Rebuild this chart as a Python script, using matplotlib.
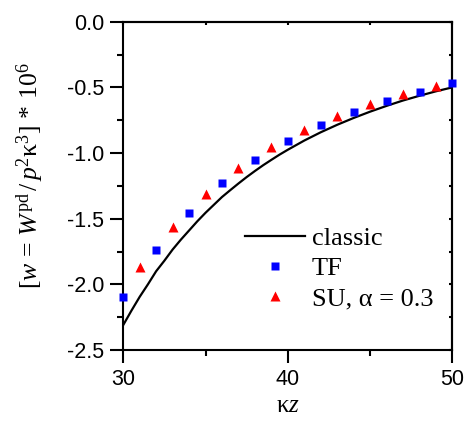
import matplotlib
matplotlib.use("Agg")
import matplotlib.pyplot as plt
from matplotlib.ticker import MultipleLocator, FormatStrFormatter

plt.rcParams['mathtext.fontset'] = 'custom'
plt.rcParams['mathtext.rm'] = 'Liberation Serif'
plt.rcParams['mathtext.it'] = 'Liberation Serif:italic'
plt.rcParams['axes.unicode_minus'] = False

# classic curve
kz_classic = [30, 30.5, 31, 31.5, 32, 32.5, 33, 33.5, 34, 34.5, 35, 35.5, 36, 36.5,
              37, 37.5, 38, 38.5, 39, 39.5, 40,
              41, 42, 43, 44, 45, 46, 47, 48, 49, 50]
w_classic = [-2.31, -2.20, -2.095, -2.00, -1.90, -1.82, -1.735, -1.66, -1.59, -1.52,
             -1.455, -1.395, -1.335, -1.283, -1.232, -1.183, -1.137, -1.093, -1.052,
             -1.012, -0.975,
             -0.905, -0.842, -0.785, -0.733, -0.685, -0.641, -0.60, -0.564, -0.53, -0.50]

# TF points
kz_tf = [30, 32, 34, 36, 38, 40, 42, 44, 46, 48, 50]
w_tf = [-2.10, -1.74, -1.46, -1.23, -1.056, -0.909, -0.787, -0.688, -0.601, -0.533, -0.469]

# SU, alpha = 0.3 points
kz_su = [31, 33, 35, 37, 39, 41, 43, 45, 47, 49]
w_su = [-1.87, -1.56, -1.31, -1.117, -0.954, -0.825, -0.718, -0.627, -0.553, -0.487]

fig = plt.figure(figsize=(4.65, 4.22), dpi=100)
ax = fig.add_axes([0.265, 0.1706, 0.708, 0.778])

ax.plot(kz_classic, w_classic, color='black', lw=1.6, label='classic', zorder=3)
ax.plot(kz_tf, w_tf, 's', color='#0000ff', ms=6, mec='none', label='TF', clip_on=False, zorder=4)
ax.plot(kz_su, w_su, '^', color='#ff0000', ms=7.5, mec='none', label='SU, \u03b1 = 0.3', clip_on=False, zorder=4)

ax.set_xlim(30, 50)
ax.set_ylim(-2.5, 0.0)
ax.xaxis.set_major_locator(MultipleLocator(10))
ax.xaxis.set_minor_locator(MultipleLocator(5))
ax.yaxis.set_major_locator(MultipleLocator(0.5))
ax.yaxis.set_minor_locator(MultipleLocator(0.25))
ax.yaxis.set_major_formatter(FormatStrFormatter('%.1f'))

for s in ax.spines.values():
    s.set_linewidth(1.5)

ax.tick_params(which='major', direction='out', length=9.5, width=1.5, pad=4,
               labelsize=15.5, top=False, right=False)
ax.tick_params(which='minor', direction='out', length=4.5, width=1.5, top=False, right=False)
for lab in ax.get_xticklabels() + ax.get_yticklabels():
    lab.set_fontfamily('Liberation Sans')

# inner ticks on top and right
ax_t = ax.secondary_xaxis('top')
ax_t.xaxis.set_major_locator(MultipleLocator(10))
ax_t.xaxis.set_minor_locator(MultipleLocator(5))
ax_t.tick_params(which='both', direction='in', length=2.5, width=1.5, labeltop=False)
ax_t.spines['top'].set_linewidth(1.5)
ax_r = ax.secondary_yaxis('right')
ax_r.yaxis.set_major_locator(MultipleLocator(0.5))
ax_r.yaxis.set_minor_locator(MultipleLocator(0.25))
ax_r.tick_params(which='both', direction='in', length=2.5, width=1.5, labelright=False)
ax_r.spines['right'].set_linewidth(1.5)

ax.set_xlabel(r'$\mathrm{\kappa}z$', fontsize=18, labelpad=2)
ax.set_ylabel(r'$[w\,=\,W^{\mathrm{pd}}\,/\,p^{2}\mathrm{\kappa}^{3}]\,*\,10^{6}$',
              fontsize=18.5)
ax.yaxis.set_label_coords(-0.235, 0.53)

ax.legend(loc='center left', bbox_to_anchor=(0.37, 0.249), frameon=False,
          prop={'family': 'Liberation Serif', 'size': 19},
          handlelength=2.27, handletextpad=0.25, labelspacing=0.25,
          borderpad=0, borderaxespad=0)

fig.savefig('out.png', dpi=100)
